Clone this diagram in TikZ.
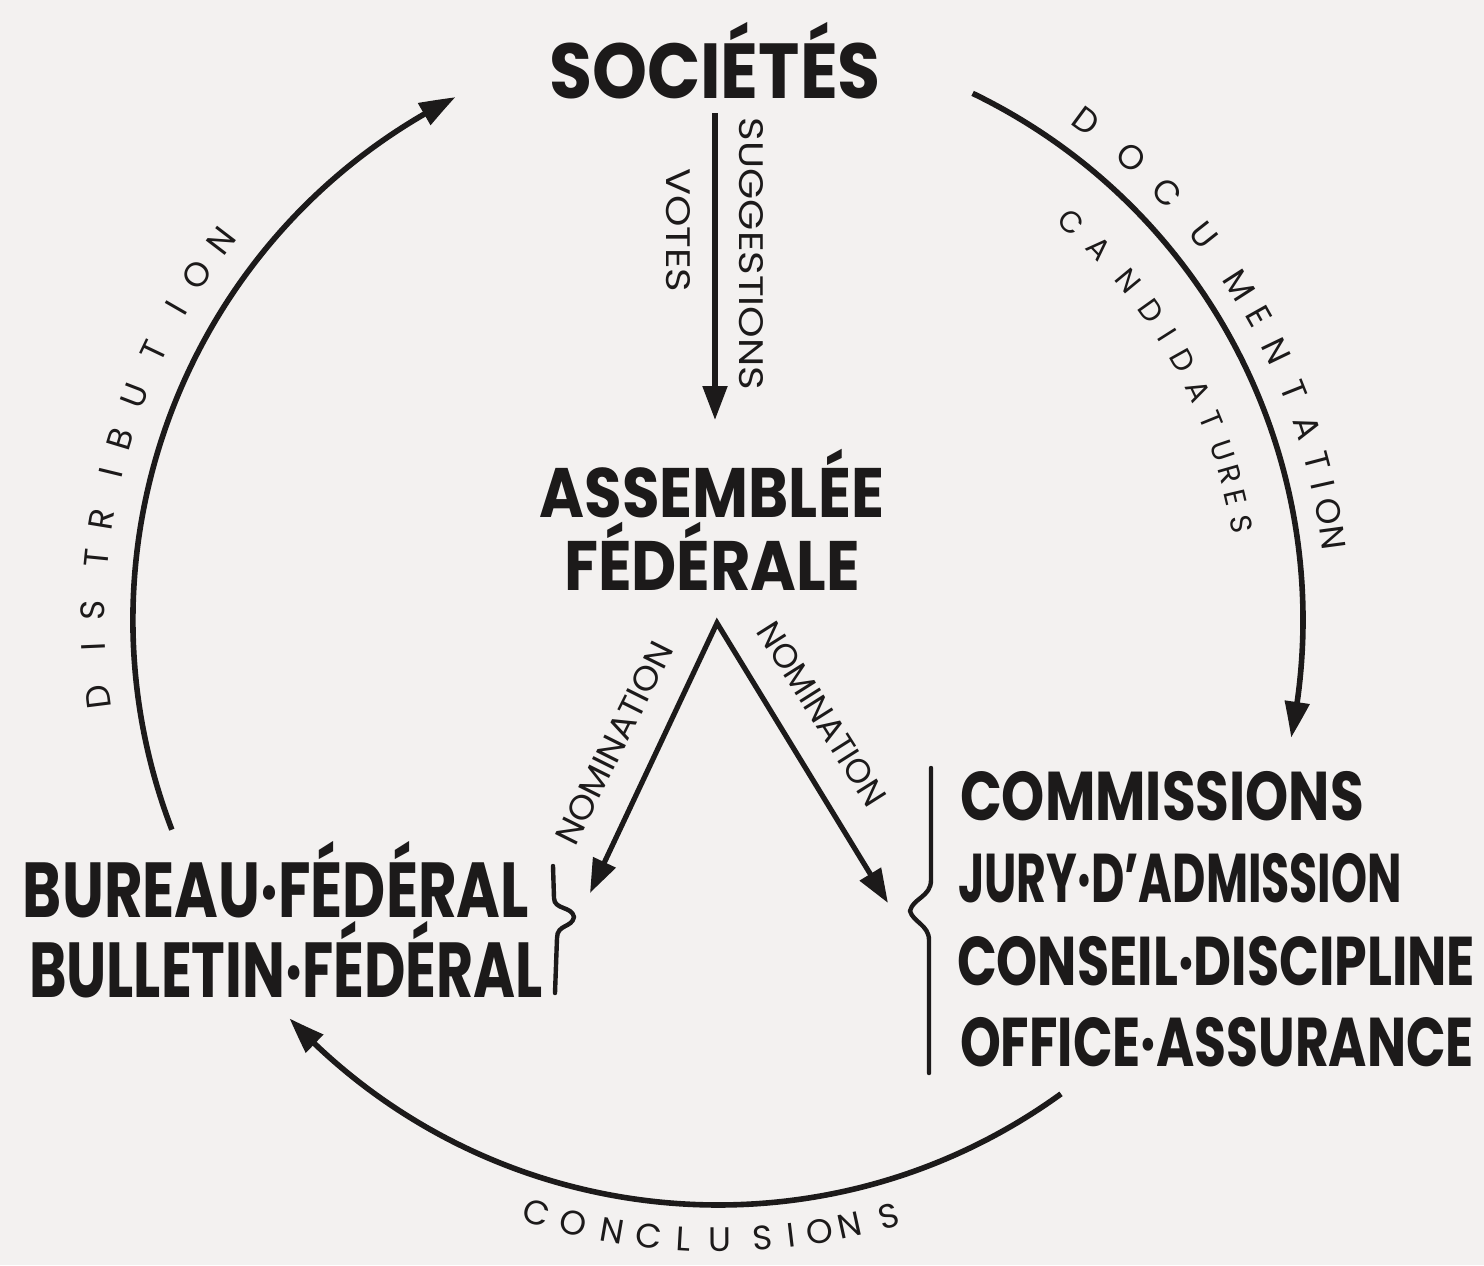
\documentclass[tikz,border=0pt]{standalone}
\usepackage{fontspec}
\setmainfont{Poppins}
\usepackage{graphicx}
\usetikzlibrary{arrows.meta,bending,calc}
\definecolor{paper}{HTML}{F3F1F0}
\definecolor{ink}{HTML}{1C1A1A}
\newcommand{\wfit}[2]{\resizebox{#1}{\height}{#2}}
\begin{document}
\begin{tikzpicture}[x=0.5pt,y=-0.5pt,
  every node/.style={inner sep=0pt, outer sep=0pt, text=ink},
  bigtxt/.style={font=\bfseries\fontsize{39}{40}\selectfont},
  asmtxt/.style={font=\bfseries\fontsize{35}{36}\selectfont},
  midtxt/.style={font=\bfseries\fontsize{34.5}{36}\selectfont},
  labtxt/.style={font=\fontsize{17}{17}\selectfont},
  smalltxt/.style={font=\fontsize{15}{15}\selectfont},
  arrline/.style={draw=ink, line width=2.6pt, line join=miter},
  cycline/.style={draw=ink, line width=2.8pt, -{Triangle[length=18pt,width=12pt,bend]}},
  braceline/.style={draw=ink, line width=2.2pt, line cap=round, line join=round}]

\fill[paper] (0,0) rectangle (1484,1265);
\useasboundingbox (0,0) rectangle (1484,1265);

% main texts
\node[bigtxt, anchor=base] (soc) at (715,98) {\wfit{166pt}{SOCIÉTÉS}};
\node[asmtxt, anchor=base] (asm1) at (712,517) {\wfit{172pt}{ASSEMBLÉE}};
\node[asmtxt, anchor=base] (asm2) at (712,590) {\wfit{148pt}{FÉDÉRALE}};
\node[bigtxt, anchor=base west] (bur) at (23,917) {\wfit{253pt}{BUREAU·FÉDÉRAL}};
\node[bigtxt, anchor=base west] (bul) at (29,997) {\wfit{257pt}{BULLETIN·FÉDÉRAL}};
\node[midtxt, anchor=base west] (com) at (960,820) {\wfit{202pt}{COMMISSIONS}};
\node[midtxt, anchor=base west] (jury) at (958,902) {\wfit{222pt}{JURY·D'ADMISSION}};
\node[midtxt, anchor=base west] (cons) at (957,985) {\wfit{259pt}{CONSEIL·DISCIPLINE}};
\node[midtxt, anchor=base west] (off) at (960,1066) {\wfit{257pt}{OFFICE·ASSURANCE}};

% vertical arrow
\coordinate (vt) at (715,113);
\coordinate (vb) at (715,420);
\draw[arrline, -{Triangle[length=17pt,width=12pt]}] (vt) -- (vb);
\node[labtxt, rotate=-90] (votes) at (678,230) {\wfit{62pt}{VOTES}};
\node[labtxt, rotate=-90] (sugg) at (751,254) {\wfit{136pt}{SUGGESTIONS}};

% nomination arrows
\coordinate (apex) at (717,623);
\coordinate (tipL) at (590,893);
\coordinate (tipR) at (888,903);
\draw[arrline, {Triangle[length=17pt,width=12pt]}-{Triangle[length=17pt,width=12pt]}] (tipL) -- (apex) -- (tipR);
\node[labtxt, rotate=63.5] (nomL) at (614,743) {\wfit{111pt}{NOMINATION}};
\node[labtxt, rotate=-57.7] (nomR) at (822,714) {\wfit{105pt}{NOMINATION}};

% braces
\draw[braceline] (553,866) -- (554,898) .. controls (554,910) and (572,906) .. (574,917) .. controls (572,928) and (557,924) .. (557,938) -- (555,993);
\draw[braceline] (931,768) -- (931,880) .. controls (931,897) and (913,898) .. (910,911) .. controls (913,922) and (929,925) .. (929,940) -- (929,1073);

% cycle arcs
\coordinate (C) at (718,620);
\draw[cycline] ($(C)+(159:585)$) arc[start angle=159, end angle=243.35, radius=585];
\draw[cycline] ($(C)+(-64.2:585)$) arc[start angle=-64.2, end angle=11.6, radius=585];
\draw[cycline] ($(C)+(54.1:585)$) arc[start angle=54.1, end angle=137.1, radius=585];

% curved labels
\foreach \l/\p [count=\i] in {D/187.1, I/182.5, S/179.1, T/174.3, R/170.7, I/166.4, B/163.2, U/159.0, T/154.5, I/150.0, O/146.5, N/142.6}
  \node[labtxt, rotate=\p-90] (dis\i) at ($(C)+(-\p:625)$) {\l};
\foreach \l/\p [count=\i] in {D/53.6, O/48.2, C/43.6, U/38.4, M/32.7, E/29.3, N/25.7, T/21.7, A/18.1, T/14.8, I/12.6, O/10.1, N/7.6}
  \node[labtxt, rotate=\p-90] (doc\i) at ($(C)+(-\p:620)$) {\l};
\foreach \l/\p [count=\i] in {C/48.4, A/44.3, N/39.6, D/35.5, I/32.4, D/29.2, A/25.5, T/22.1, U/18.6, R/15.9, E/13.3, S/10.4}
  \node[smalltxt, rotate=\p-90] (cand\i) at ($(C)+(-\p:532)$) {\l};
\foreach \l/\p [count=\i] in {C/253.0, O/256.5, N/260.2, C/263.6, L/266.8, U/270.2, S/274.1, I/276.8, O/279.4, N/282.3, S/286.0}
  \node[labtxt, rotate=\p+90] (con\i) at ($(C)+(-\p:620)$) {\l};

\end{tikzpicture}
\end{document}
